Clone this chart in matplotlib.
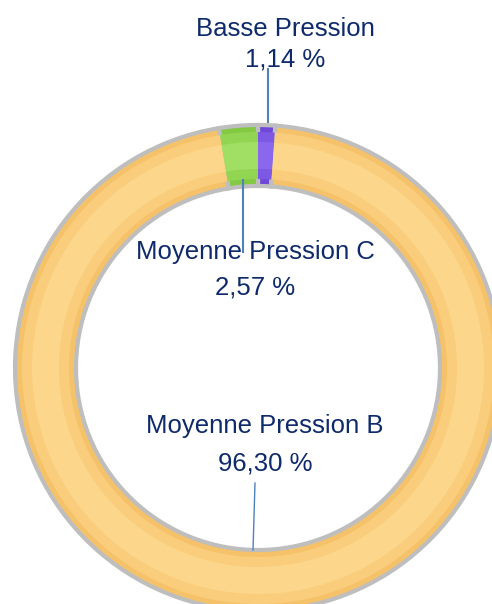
import matplotlib
matplotlib.use("Agg")
import matplotlib.pyplot as plt

# Data
categories = ["Basse Pression", "Moyenne Pression B", "Moyenne Pression C"]
values = [1.14, 96.30, 2.57]
value_labels = ["1,14 %", "96,30 %", "2,57 %"]
colors = ["#6F48D8", "#F5C269", "#84C944"]
colors_mid = ["#7C58E4", "#F9CD7C", "#92D552"]
colors_light = ["#8A68EE", "#FCD68B", "#A0DE64"]

W, H = 492, 604
fig = plt.figure(figsize=(W / 100, H / 100), dpi=100)
ax = fig.add_axes([0, 0, 1, 1])

cx, cy = 258, H - 368
R_out, R_in = 243, 182
width = R_out - R_in
explode_px = [0, 0, 7]

# base ring with grey bevel frame, then lighter inner bands for a bevel look
for inset, cols, ec, lw in [(0, colors, "#BEBEBE", 3.0),
                            (7, colors_mid, "none", 0),
                            (17, colors_light, "none", 0)]:
    r = R_out - inset
    ax.pie(values, colors=cols, startangle=90, counterclock=False,
           radius=r, center=(cx, cy),
           explode=[e / r for e in explode_px],
           wedgeprops=dict(width=width - 2 * inset, edgecolor=ec, linewidth=lw),
           frame=True)

ax.set_xlim(0, W)
ax.set_ylim(0, H)
ax.set_aspect("equal")
ax.axis("off")

txt_color = "#0E2A6B"
line_color = "#4F81BD"
fs = 18.5
font = "Liberation Sans"

# label positions: (x_center, baseline line1, baseline line2) in pixel coords
lab_pos = {
    "Basse Pression": (285, 36, 67),
    "Moyenne Pression B": (265, 433, 470),
    "Moyenne Pression C": (255, 259, 294),
}
for cat, vl in zip(categories, value_labels):
    x, y1, y2 = lab_pos[cat]
    ax.text(x, H - y1, cat, ha="center", va="baseline", fontsize=fs,
            color=txt_color, family=font)
    ax.text(x, H - y2, vl, ha="center", va="baseline", fontsize=fs,
            color=txt_color, family=font)

# leader lines
ax.plot([268, 268], [H - 69, H - 122], color=line_color, lw=1.5)
ax.plot([243, 243], [H - 180, H - 252], color=line_color, lw=1.5)
ax.plot([255, 253], [H - 483, H - 550], color=line_color, lw=1.0)

fig.savefig("out.png", dpi=100)
